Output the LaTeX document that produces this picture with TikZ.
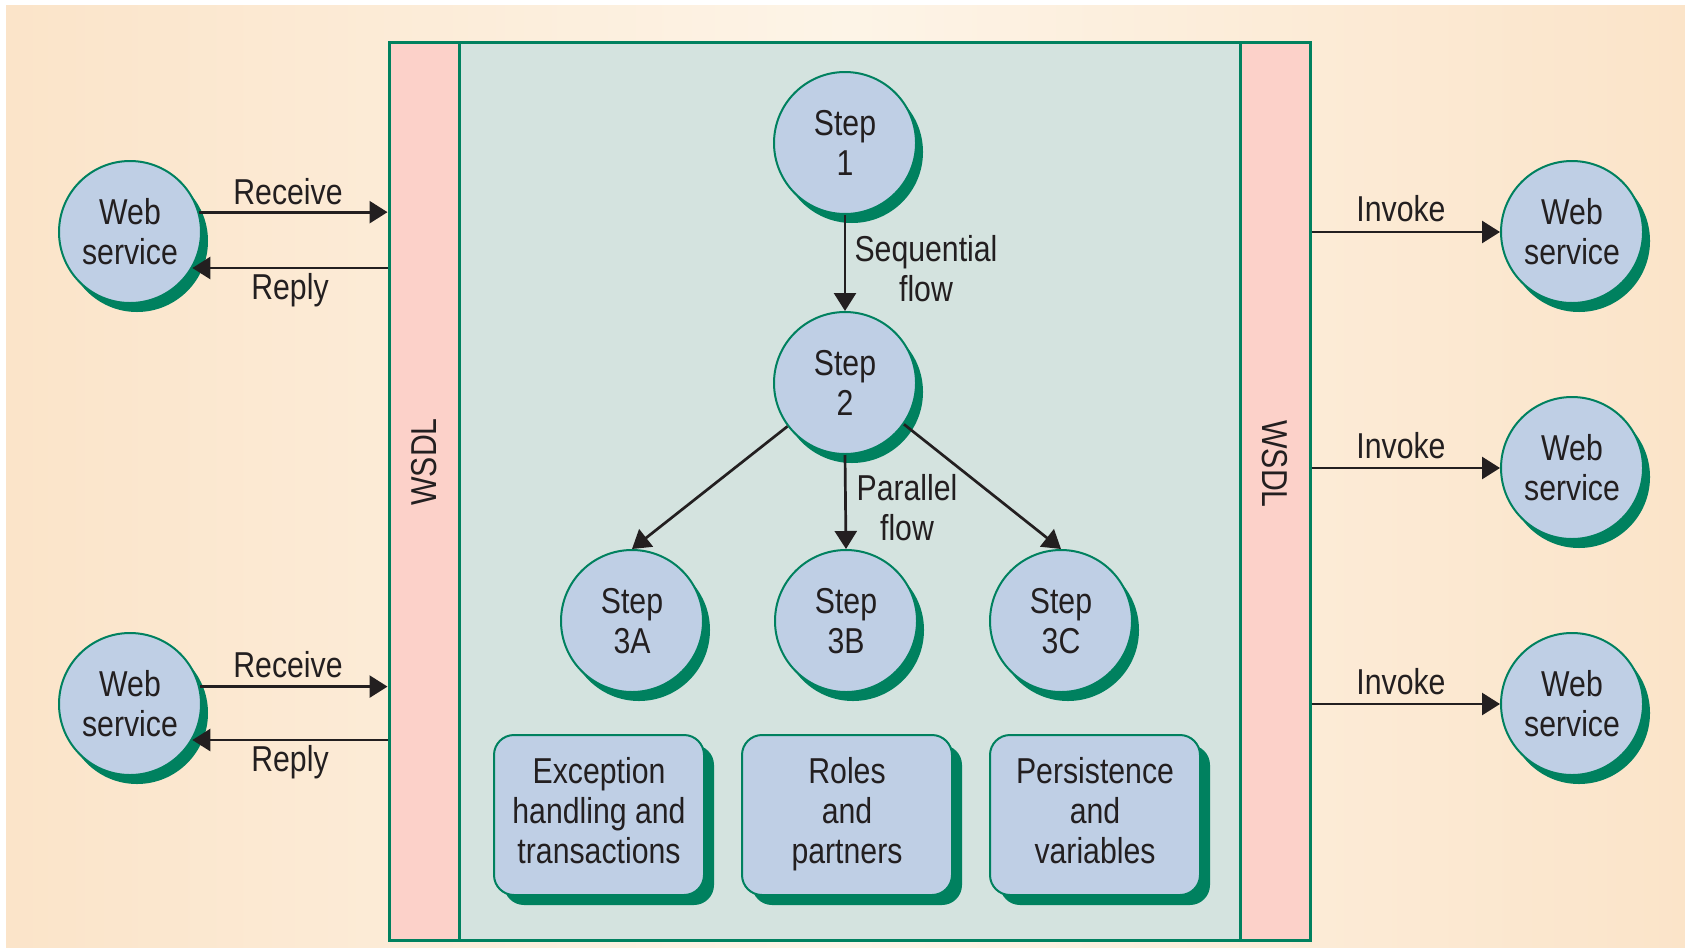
\documentclass[tikz,border=0pt]{standalone}
\usepackage{fontspec}
\setmainfont{Liberation Sans}[FakeStretch=0.84]
\usetikzlibrary{arrows.meta,shadows}

\definecolor{paperedge}{HTML}{FBE4C9}
\definecolor{papermid}{HTML}{FDF4E7}
\definecolor{enginefill}{HTML}{D4E3DF}
\definecolor{wsdlfill}{HTML}{FCD1C9}
\definecolor{rim}{HTML}{00815F}
\definecolor{discfill}{HTML}{BFCFE5}
\definecolor{ink}{HTML}{231F20}

\begin{document}
\begin{tikzpicture}[x=0.5pt, y=-0.5pt,
  every node/.style={font=\fontsize{18pt}{20pt}\selectfont, text=ink, inner sep=0pt},
  disc/.style={circle, fill=discfill, draw=rim, line width=1pt, minimum size=71pt, align=center,
    drop shadow={shadow xshift=3.5pt, shadow yshift=-4.5pt, fill=rim, opacity=1}},
  topic/.style={rectangle, rounded corners=10pt, fill=discfill, draw=rim, line width=1pt,
    minimum width=105pt, minimum height=80pt, align=center, text depth=5pt,
    drop shadow={shadow xshift=5pt, shadow yshift=-5pt, fill=rim, opacity=1}},
  wsdlbar/.style={rectangle, fill=wsdlfill, draw=rim, line width=1.5pt,
    minimum width=35pt, minimum height=449pt},
  flow/.style={draw=ink, line width=1.35pt, -{Triangle[length=9pt,width=11pt]}},
  tag/.style={align=center}]

% page and background wash (middle color last, so it is not reset)
\useasboundingbox (0,0) rectangle (1685,948);
\fill[white] (0,0) rectangle (1685,948);
\shade[left color=paperedge, right color=paperedge, middle color=papermid]
  (6,5) rectangle (1685,947);

% BPEL engine frame with its two WSDL interfaces
\node[draw=rim, fill=enginefill, line width=1.5pt, minimum width=460pt, minimum height=449pt]
  (engine) at (849,491) {};
\node[wsdlbar] (wsdlL) at (424,491) {};
\node[wsdlbar] (wsdlR) at (1275,491) {};
\node[rotate=90] (wsdlLtext) at (424,462) {WSDL};
\node[rotate=-90] (wsdlRtext) at (1275,464) {WSDL};

% partner web services
\node[disc] (wsA) at (130,232) {Web\\service};
\node[disc] (wsB) at (130,704) {Web\\service};
\node[disc] (wsC) at (1572,232) {Web\\service};
\node[disc] (wsD) at (1572,468) {Web\\service};
\node[disc] (wsE) at (1572,704) {Web\\service};

% process steps
\node[disc] (s1) at (845,143) {Step\\1};
\node[disc] (s2) at (845,383) {Step\\2};
\node[disc] (s3a) at (632,621) {Step\\3A};
\node[disc] (s3b) at (846,621) {Step\\3B};
\node[disc] (s3c) at (1061,621) {Step\\3C};

% process concerns
\node[topic] (exc) at (599,815) {Exception\\handling and\\transactions};
\node[topic] (roles) at (847,815) {Roles\\and\\partners};
\node[topic] (pers) at (1095,815) {Persistence\\and\\variables};

% receive / reply exchanges on the left
\draw[flow] (wsA.16) -- (wsA.16 -| wsdlL.west);
\draw[flow] (wsA.-30 -| wsdlL.west) -- (wsA.-30);
\draw[flow] (wsB.14) -- (wsB.14 -| wsdlL.west);
\draw[flow] (wsB.-30 -| wsdlL.west) -- (wsB.-30);
\node (rcvA) at (288,192) {Receive};
\node (rplA) at (290,290) {Reply};
\node (rcvB) at (288,665) {Receive};
\node (rplB) at (290,762) {Reply};

% invocations on the right
\draw[flow] (wsC.west -| wsdlR.east) -- (wsC.west);
\draw[flow] (wsD.west -| wsdlR.east) -- (wsD.west);
\draw[flow] (wsE.west -| wsdlR.east) -- (wsE.west);
\node (invC) at (1401,209) {Invoke};
\node (invD) at (1401,446) {Invoke};
\node (invE) at (1401,682) {Invoke};

% control flow between steps
\draw[flow] (s1.south) -- (s2.north);
\node[tag] (seq) at (926,269) {Sequential\\flow};
\draw[flow] (s2.-143) -- (s3a.north);
\draw[flow] (s2.south) -- (s3b.north);
\draw[flow] (s2.-35) -- (s3c.north);
\node[tag] (par) at (907,508) {Parallel\\flow};
\end{tikzpicture}
\end{document}
